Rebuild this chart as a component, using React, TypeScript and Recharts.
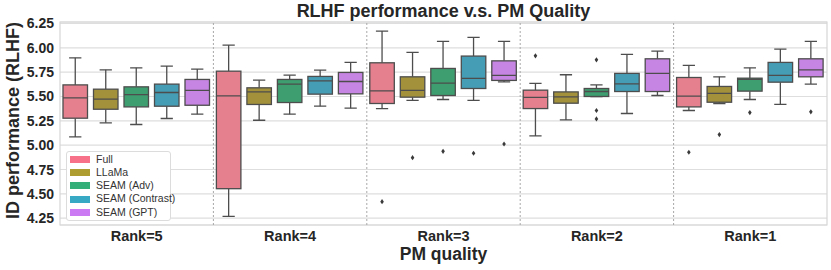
import React from "react";
import {
  ComposedChart,
  Bar,
  XAxis,
  YAxis,
  CartesianGrid,
  ReferenceLine,
  ReferenceArea,
  Legend,
  Label,
} from "recharts";

const ranks = ["Rank=5", "Rank=4", "Rank=3", "Rank=2", "Rank=1"];
const yTicks = [4.25, 4.5, 4.75, 5.0, 5.25, 5.5, 5.75, 6.0, 6.25];

// [low whisker, q1, median, q3, high whisker] per rank
const fullStats = [
  [5.085, 5.277, 5.486, 5.619, 5.897],
  [4.268, 4.553, 5.506, 5.76, 6.028],
  [5.376, 5.428, 5.558, 5.846, 6.172],
  [5.095, 5.376, 5.49, 5.565, 5.634],
  [5.356, 5.393, 5.503, 5.695, 5.819],
];
const fullOutliers = [[], [], [4.42], [5.918], [4.927]];

const llamaStats = [
  [5.229, 5.369, 5.472, 5.575, 5.774],
  [5.256, 5.418, 5.547, 5.589, 5.668],
  [5.459, 5.493, 5.562, 5.702, 5.953],
  [5.259, 5.431, 5.496, 5.547, 5.723],
  [5.428, 5.441, 5.531, 5.603, 5.702],
];
const llamaOutliers = [[], [], [4.872], [], [5.109]];

const advStats = [
  [5.212, 5.393, 5.52, 5.599, 5.794],
  [5.318, 5.438, 5.627, 5.675, 5.719],
  [5.469, 5.51, 5.637, 5.788, 6.066],
  [5.5, 5.5, 5.551, 5.582, 5.619],
  [5.469, 5.555, 5.675, 5.688, 5.794],
];
const advOutliers = [[], [], [4.937], [5.877, 5.356, 5.27], [5.335]];

const contrastStats = [
  [5.274, 5.4, 5.541, 5.627, 5.812],
  [5.4, 5.524, 5.661, 5.706, 5.771],
  [5.459, 5.582, 5.685, 5.915, 6.107],
  [5.325, 5.551, 5.63, 5.737, 5.932],
  [5.418, 5.647, 5.716, 5.85, 5.987],
];
const contrastOutliers = [[], [], [4.917], [], []];

const gptStats = [
  [5.318, 5.41, 5.562, 5.675, 5.781],
  [5.38, 5.527, 5.654, 5.747, 5.85],
  [5.65, 5.665, 5.716, 5.866, 6.066],
  [5.51, 5.551, 5.737, 5.887, 5.966],
  [5.627, 5.702, 5.774, 5.887, 6.066],
];
const gptOutliers = [[], [], [5.012], [], [5.342]];

const seriesNames = ["Full", "LLaMa", "SEAM (Adv)", "SEAM (Contrast)", "SEAM (GPT)"];
const legendColors = ["#f77189", "#ae9d31", "#33b07a", "#38a9c5", "#cc7af4"];
const boxColors = ["#e5808f", "#a3923b", "#3e9e6f", "#459db5", "#c785e3"];

const series = [
  { key: "full", stats: fullStats, outliers: fullOutliers },
  { key: "llama", stats: llamaStats, outliers: llamaOutliers },
  { key: "adv", stats: advStats, outliers: advOutliers },
  { key: "contrast", stats: contrastStats, outliers: contrastOutliers },
  { key: "gpt", stats: gptStats, outliers: gptOutliers },
];

const rows = ranks.map((rank, r) => {
  const row: any = { rank };
  series.forEach((s) => {
    row[s.key] = s.stats[r];
    row[s.key + "Out"] = s.outliers[r];
    row[s.key + "Range"] = [s.stats[r][0], s.stats[r][4]];
  });
  return row;
});

const FONT = '"Liberation Sans", Arial, sans-serif';
const LINE = "#4d4d4d";

function BoxShape(props: any) {
  const { x, y, width, height, payload, skey, color } = props;
  const st = payload[skey];
  const outs: number[] = payload[skey + "Out"] || [];
  const top = Math.min(y, y + height);
  const bot = Math.max(y, y + height);
  const lo = st[0];
  const hi = st[4];
  // map a value into pixels using the bar's own low/high extent
  const py = (v: number) => (hi === lo ? top : top + ((hi - v) / (hi - lo)) * (bot - top));
  const cx = x + width / 2;
  const cap = width / 4;
  return (
    <g>
      <line x1={cx} x2={cx} y1={py(st[3])} y2={py(hi)} stroke={LINE} strokeWidth={1.3} />
      <line x1={cx} x2={cx} y1={py(st[1])} y2={py(lo)} stroke={LINE} strokeWidth={1.3} />
      <line x1={cx - cap} x2={cx + cap} y1={py(hi)} y2={py(hi)} stroke={LINE} strokeWidth={1.3} />
      <line x1={cx - cap} x2={cx + cap} y1={py(lo)} y2={py(lo)} stroke={LINE} strokeWidth={1.3} />
      <rect
        x={x}
        y={py(st[3])}
        width={width}
        height={Math.max(py(st[1]) - py(st[3]), 0.5)}
        fill={color}
        stroke={LINE}
        strokeWidth={1.3}
      />
      <line x1={x} x2={x + width} y1={py(st[2])} y2={py(st[2])} stroke={LINE} strokeWidth={1.3} />
      {outs.map((v, i) => {
        const oy = py(v);
        return (
          <path
            key={i}
            d={`M${cx},${oy - 2.6} L${cx + 1.8},${oy} L${cx},${oy + 2.6} L${cx - 1.8},${oy} Z`}
            fill="#3a3a3a"
          />
        );
      })}
    </g>
  );
}

const renderLegend = (p: any) => (
  <div
    style={{
      border: "1px solid #dcdcdc",
      borderRadius: 3,
      background: "#fff",
      padding: "1px 3px 1px 3px",
      fontFamily: FONT,
      fontSize: 10.5,
      lineHeight: "13.3px",
      color: "#333",
      whiteSpace: "nowrap",
      width: 97,
      textAlign: "left",
    }}
  >
    {(p.payload || []).map((e: any, i: number) => (
      <div key={i} style={{ display: "flex", alignItems: "center", height: 13.3 }}>
        <span
          style={{ width: 20, height: 7, background: e.color, marginRight: 6, display: "inline-block", flexShrink: 0 }}
        />
        <span>{e.value}</span>
      </div>
    ))}
  </div>
);

export default function App() {
  return (
    <div style={{ position: "absolute", left: 0, top: 0, width: 831, height: 270, background: "#fff" }}>
      <div
        style={{
          position: "absolute",
          left: 60,
          top: 1,
          width: 767,
          textAlign: "center",
          fontFamily: FONT,
          fontWeight: "bold",
          fontSize: 18,
          lineHeight: "20px",
          color: "#262626",
          zIndex: 2,
        }}
      >
        RLHF performance v.s. PM Quality
      </div>
      <ComposedChart
        width={831}
        height={270}
        data={rows}
        margin={{ top: 22, right: 4, bottom: 0, left: 0 }}
        barSize={24.5}
        barGap={6}
      >
        <CartesianGrid vertical={false} stroke="#dedede" strokeWidth={1.2} />
        <XAxis
          dataKey="rank"
          height={45}
          axisLine={false}
          tickLine={false}
          tickSize={0}
          tickMargin={0}
          interval={0}
          tick={(t: any) => (
            <text
              x={t.x}
              y={t.y}
              dy={16}
              textAnchor="middle"
              fontFamily={FONT}
              fontWeight="bold"
              fontSize={14.5}
              fill="#262626"
            >
              {t.payload.value}
            </text>
          )}
        >
          <Label
            content={(p: any) => (
              <text
                x={p.viewBox.x + p.viewBox.width / 2}
                y={p.viewBox.y + 34.5}
                textAnchor="middle"
                fontFamily={FONT}
                fontWeight="bold"
                fontSize={17.5}
                fill="#262626"
              >
                PM quality
              </text>
            )}
          />
        </XAxis>
        <YAxis
          width={60}
          type="number"
          domain={[4.18, 6.265]}
          allowDataOverflow
          ticks={yTicks}
          axisLine={false}
          tickLine={false}
          tickSize={0}
          tickMargin={0}
          tick={(t: any) => (
            <text
              x={t.x - 6}
              y={t.y}
              dy={5}
              textAnchor="end"
              fontFamily={FONT}
              fontWeight="bold"
              fontSize={14}
              fill="#262626"
            >
              {Number(t.payload.value).toFixed(2)}
            </text>
          )}
        >
          <Label
            content={(p: any) => {
              const cx = 19;
              const cy = p.viewBox.y + p.viewBox.height / 2 - 3;
              return (
                <text
                  x={cx}
                  y={cy}
                  transform={`rotate(-90 ${cx} ${cy})`}
                  textAnchor="middle"
                  fontFamily={FONT}
                  fontWeight="bold"
                  fontSize={18}
                  fill="#262626"
                >
                  ID performance (RLHF)
                </text>
              );
            }}
          />
        </YAxis>
        <ReferenceArea
          x1={ranks[0]}
          x2={ranks[ranks.length - 1]}
          y1={4.18}
          y2={6.265}
          fill="none"
          fillOpacity={0}
          stroke="#d6d6d6"
          strokeWidth={1.2}
          ifOverflow="visible"
        />
        {ranks.slice(1).map((r) => (
          <ReferenceLine
            key={r}
            x={r}
            position="start"
            stroke="#a8a8a8"
            strokeDasharray="2 2"
            strokeWidth={1}
          />
        ))}
        {series.map((s, i) => (
          <Bar
            key={s.key}
            name={seriesNames[i]}
            dataKey={s.key + "Range"}
            fill={legendColors[i]}
            isAnimationActive={false}
            shape={(props: any) => <BoxShape {...props} skey={s.key} color={boxColors[i]} />}
          />
        ))}
        <Legend
          layout="horizontal"
          verticalAlign="middle"
          align="center"
          content={renderLegend}
          wrapperStyle={{ position: "absolute", left: 66, top: 150.5, width: 105 }}
        />
      </ComposedChart>
    </div>
  );
}
